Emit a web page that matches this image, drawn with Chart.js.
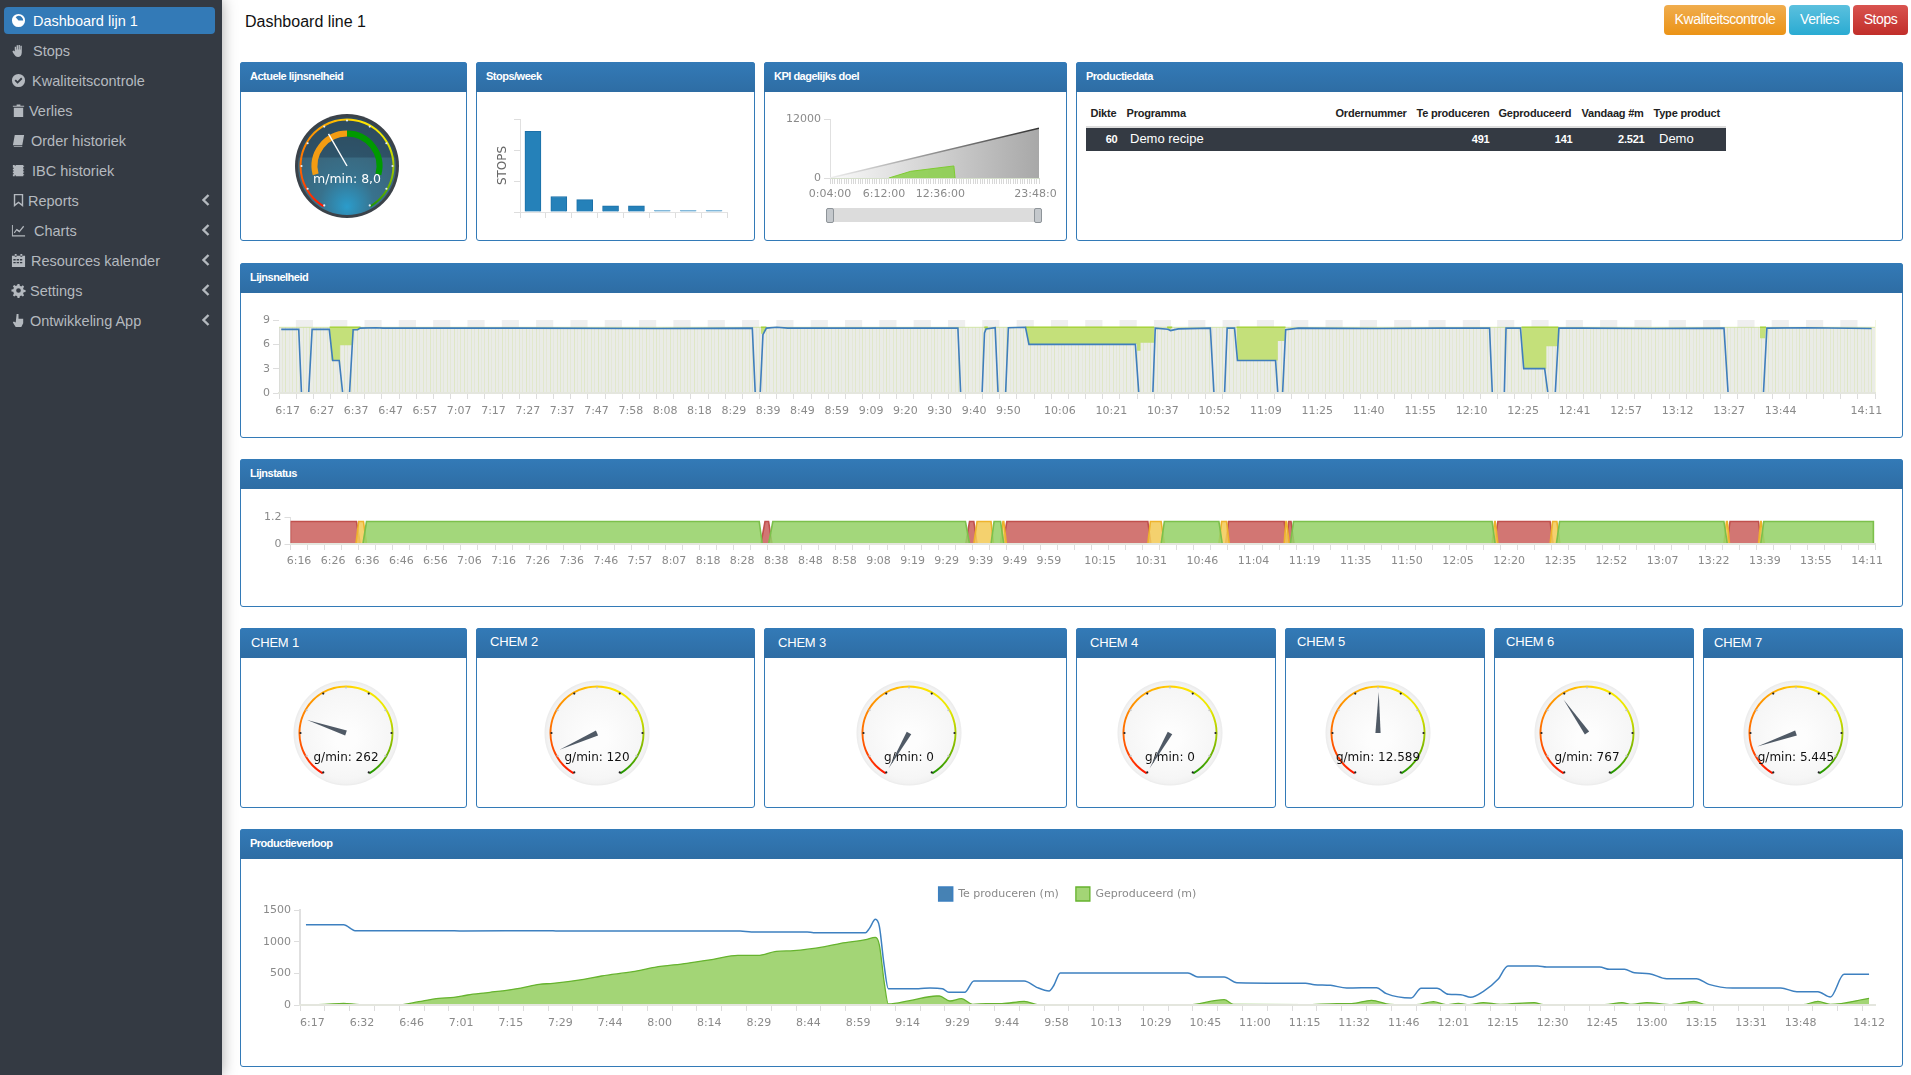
<!DOCTYPE html>
<html>
<head>
<meta charset="utf-8">
<title>Dashboard line 1</title>
<script src="https://cdn.jsdelivr.net/npm/chart.js"></script>
<style>
html,body{margin:0;padding:0;background:#fff;overflow:hidden;font-family:"Liberation Sans",Arial,sans-serif}
#page{position:relative;width:1911px;height:1075px;overflow:hidden}
#side{position:absolute;left:0;top:0;width:222px;height:1075px;background:#343a43;box-shadow:0 0 14px rgba(0,0,0,.35)}
#active{position:absolute;left:4px;top:7px;width:211px;height:27px;background:#337ab7;border-radius:4px}
.item{position:absolute;font-size:14.5px;color:#b4b9bf;line-height:20px;white-space:nowrap}
.ico{position:absolute;left:11px;width:15px;height:15px;fill:#b4b9bf}
.chev{position:absolute;left:202px;width:8px;height:12px;fill:none;stroke:#b4b9bf;stroke-width:2.4}
#title{position:absolute;left:245px;top:12px;font-size:16px;color:#111;line-height:20px}
.btn{position:absolute;top:5px;height:30px;line-height:29px;box-sizing:border-box;border-radius:4px;color:#fff;font-size:14px;text-align:center;letter-spacing:-.45px}
.panel{position:absolute;box-sizing:border-box;border:1px solid #337ab7;border-radius:3px;background:#fff}
.panel .head{position:absolute;left:-1px;right:-1px;top:-1px;height:30px;border-radius:3px 3px 0 0;background:linear-gradient(#337ab7,#2e6da4);color:#fff;font-size:11px;font-weight:bold;line-height:29px;padding-left:10px;letter-spacing:-.5px;box-sizing:border-box}
.panel .head.chem{font-size:13px;font-weight:normal;letter-spacing:-.2px;height:30px}
canvas{position:absolute}
table{position:absolute;left:1086px;top:101px;width:640px;border-collapse:collapse;table-layout:fixed;font-size:11px;color:#222}
th{box-sizing:border-box;font-weight:bold;height:26px;padding:0 4.5px 1px;text-align:left;letter-spacing:-.2px;border-bottom:2px solid #ddd}
td{box-sizing:border-box;height:24px;padding:0 4.5px 2px;background:#343a43;color:#fff;font-weight:bold;letter-spacing:-.2px}
.r{text-align:right}
td.big{font-size:13px;font-weight:normal;letter-spacing:0}
#slider{position:absolute;left:827px;top:208px;width:214px;height:14px;background:#dcdcdc}
.grip{position:absolute;top:208px;width:6px;height:13px;background:#c4c8cc;border:1px solid #8e9499;border-radius:2px}
</style>
</head>
<body>
<div id="page">
  <div id="side"><div id="active"></div></div>
  <div id="title">Dashboard line 1</div>
  <div class="btn" style="left:1664px;width:122px;background:linear-gradient(#f0ad4e,#eb9316)">Kwaliteitscontrole</div>
  <div class="btn" style="left:1789px;width:61px;background:linear-gradient(#5bc0de,#2aabd2)">Verlies</div>
  <div class="btn" style="left:1853px;width:55px;background:linear-gradient(#d9534f,#c12e2a)">Stops</div>

  <div class="panel" style="left:240px;top:62px;width:227px;height:179px"><div class="head">Actuele lijnsnelheid</div></div>
  <div class="panel" style="left:476px;top:62px;width:279px;height:179px"><div class="head">Stops/week</div></div>
  <div class="panel" style="left:764px;top:62px;width:303px;height:179px"><div class="head">KPI dagelijks doel</div></div>
  <div class="panel" style="left:1076px;top:62px;width:827px;height:179px"><div class="head">Productiedata</div></div>
  <div class="panel" style="left:240px;top:263px;width:1663px;height:175px"><div class="head">Lijnsnelheid</div></div>
  <div class="panel" style="left:240px;top:459px;width:1663px;height:148px"><div class="head">Lijnstatus</div></div>
  <div class="panel" style="left:240px;top:628px;width:227px;height:180px"><div class="head chem" style="padding-left:11px">CHEM 1</div></div>
  <div class="panel" style="left:476px;top:628px;width:279px;height:180px"><div class="head chem" style="padding-left:14px;line-height:27px">CHEM 2</div></div>
  <div class="panel" style="left:764px;top:628px;width:303px;height:180px"><div class="head chem" style="padding-left:14px">CHEM 3</div></div>
  <div class="panel" style="left:1076px;top:628px;width:200px;height:180px"><div class="head chem" style="padding-left:14px">CHEM 4</div></div>
  <div class="panel" style="left:1285px;top:628px;width:200px;height:180px"><div class="head chem" style="padding-left:12px;line-height:27px">CHEM 5</div></div>
  <div class="panel" style="left:1494px;top:628px;width:200px;height:180px"><div class="head chem" style="padding-left:12px;line-height:27px">CHEM 6</div></div>
  <div class="panel" style="left:1703px;top:628px;width:200px;height:180px"><div class="head chem" style="padding-left:11px">CHEM 7</div></div>
  <div class="panel" style="left:240px;top:829px;width:1663px;height:238px"><div class="head">Productieverloop</div></div>

  <table>
    <colgroup><col style="width:36px"><col style="width:209px"><col style="width:81px"><col style="width:82px"><col style="width:83px"><col style="width:72px"><col style="width:77px"></colgroup>
    <tr><th>Dikte</th><th>Programma</th><th>Ordernummer</th><th>Te produceren</th><th>Geproduceerd</th><th>Vandaag #m</th><th>Type product</th></tr>
    <tr><td class="r">60</td><td class="big" style="padding-left:8px">Demo recipe</td><td></td><td class="r">491</td><td class="r">141</td><td class="r">2.521</td><td class="big" style="padding-left:10px">Demo</td></tr>
  </table>

  <div id="slider"></div>
  <div class="grip" style="left:826px"></div>
  <div class="grip" style="left:1034px"></div>
</div>
<script>
// sidebar
const sideLabels = ["Dashboard lijn 1","Stops","Kwaliteitscontrole","Verlies","Order historiek","IBC historiek","Reports","Charts","Resources kalender","Settings","Ontwikkeling App"];
const sideText = [33,33,32,29,31,32,28,34,31,30,30];
const sideIcons = [
 "M8 1a7 7 0 1 0 0 14A7 7 0 0 0 8 1zm0 2a5 5 0 0 1 5 5H8L5 4.6A5 5 0 0 1 8 3z",
 "M4 8V4h1.5v3H6V2.5h1.5V7H8V2h1.500v5h.5V3h1.500v7c0 3-2 5-4 5s-3-1-5-4l-1-2 1-1 2 1z",
 "M8 1a7 7 0 1 0 0 14A7 7 0 0 0 8 1zM7 11.500 3.800 8.300l1.400-1.400L7 8.700l3.800-3.800 1.400 1.400z",
 "M3 5h10v10H3zM2 3h4V1.500h4V3h4v1H2z",
 "M4 2h10l-2 11H2zM3 14h9v1H3z",
 "M2 2h2v1h1v-1h8v1h1v1h-1v2h1v1h-1v2h1v1h-1v2h1v1h-1v1H5v-1H4v1H2v-2h1v-1H2V9h1V8H2V6h1V5H2z",
 "M3 1h10v14l-5-4-5 4zm1.500 1.500v9.300L8 9l3.500 2.800V2.500z",
 "M1 2h1v11h13v1.500H1zM3 10l3-4 3 2 4-5 1 1-5 6-3-2-2 3z",
 "M1 3h14v12H1zM4 1h2v3H4zM10 1h2v3h-2zM2.500 6.500v1.500h2.500V6.500zm3.500 0v1.500h2.500V6.500zm3.500 0v1.500H12V6.500zm-7 3V11h2.500V9.500zm3.500 0V11h2.500V9.500zm3.500 0V11H12V9.500z",
 "M7 1h2l.4 2 1.500.6 1.700-1.100 1.400 1.400-1.100 1.700.6 1.500 2 .4v2l-2 .4-.6 1.500 1.100 1.700-1.400 1.400-1.700-1.100-1.500.6-.4 2H7l-.4-2-1.500-.6-1.700 1.100-1.400-1.400 1.100-1.700L2.500 9.400 .5 9V7l2-.4.6-1.500L2 3.400 3.400 2l1.700 1.100L6.600 2.500zM8 5.500a2.500 2.500 0 1 0 0 5 2.500 2.500 0 0 0 0-5z",
 "M6 1h2v5h5v5l-2 4H5L2 10l1-1 2 1z"
];
const sideChevron = [0,0,0,0,0,0,1,1,1,1,1];
const side = document.getElementById("side");
sideLabels.forEach((t,i)=>{
  const y = 21 + i*30;
  side.insertAdjacentHTML("beforeend",
   `<svg class="ico" viewBox="0 0 16 16" style="top:${y-8}px${i?"":";fill:#fff"}"><path fill-rule="evenodd" d="${sideIcons[i]}"/></svg>`+
   `<div class="item" style="left:${sideText[i]}px;top:${y-10}px${i?"":";color:#fff"}">${t}</div>`+
   (sideChevron[i]?`<svg class="chev" viewBox="0 0 8 12" style="top:${y-7}px"><polyline points="6.500,1 1.500,6 6.500,11"/></svg>`:""));
});

// Stops/week
const stopWeeks = ["1","2","3","4","5","6","7","8"];
const stopValues = [26,5,4,2,2,0.5,0.5,0.5];

// KPI dagelijks doel (x in minutes of the day)
const kpiTickMinutes = [4,372,756,1428];
const kpiTickLabels = ["0:04:00","6:12:00","12:36:00","23:48:00"];
const kpiTargetMinutes = [4,1428];
const kpiTarget = [0,10100];
const kpiActualMinutes = [405,460,554,848,856];
const kpiActual = [0,500,1360,2450,0];

// Lijnsnelheid (x in axis ticks, the line is not drawn while the speed stays at 0)
const speedTickPos = [0,2,4,6,8,10,12,14,16,18,20,22,24,26,28,30,32,34,36,38,40,42,45,48,51,54,57,60,63,66,69,72,75,78,81,84,87,92];
const speedTickLabels = ["6:17","6:27","6:37","6:47","6:57","7:07","7:17","7:27","7:37","7:47","7:58","8:08","8:18","8:29","8:39","8:49","8:59","9:09","9:20","9:30","9:40","9:50","10:06","10:21","10:37","10:52","11:09","11:25","11:40","11:55","12:10","12:25","12:41","12:57","13:12","13:27","13:44","14:11"];
const speedX = [0.13,1.15,1.31,1.5,1.73,1.93,2.93,3.13,3.51,3.71,3.9,4.11,4.32,4.58,4.73,5.66,6.08,14,22,27.58,27.75,27.9,28.04,28.2,28.4,29,29.65,35,39.56,39.72,40.3,40.97,41.11,41.2,41.73,41.9,42.1,42.34,42.5,43.5,43.7,49.9,50.1,50.5,50.92,51.06,51.8,51.95,52.4,54.27,54.48,54.8,55.1,55.25,55.68,55.85,58.07,58.2,58.3,58.48,58.66,59.4,64,67.7,70.54,70.7,71,71.4,71.5,72.34,72.53,73.75,73.94,74.1,74.37,74.58,76,80,84.2,84.44,85.5,86.5,86.7,89,92.8];
const speedValues = [7.85,7.85,0,null,0,7.85,7.85,4,4,0,null,0,7.8,7.8,8,8.05,8,8,7.95,8,0,null,0,7.2,8,8.1,8,8,8,0,null,0,7.4,7.9,8.05,0,null,0,8.05,8.1,6,6,0,null,0,8,7.85,7.7,7.9,8,0,null,0,8,8,4,4,0,null,0,7.8,8,7.95,8,8,0,null,0,8,8,3,3,0,null,0,8,8,7.95,8,0,null,0,8,8.05,7.95];
const speedLossX = [2.95,3.05,3.55,3.55,4.3,4.35,4.6,4.75,5, 28.08,28.08,28.25,28.4,28.5, 41.1,41.1,41.2,41.3,41.4, 43.5,43.7,50,50,50.2,50.2,51,51,51.2, 51.75,51.9,52.05,52.2, 55.8,55.85,58.2,58.2,58.6,58.65,58.8, 72.4,72.53,73.85,73.85,74.5,74.55,74.7, 86.3,86.3,86.6,86.65];
const speedLossY = [8.1,4,4,5.9,5.9,7.8,7.8,8.1,null, 8.1,7.3,7.3,8.1,null, 8.1,7.5,7.9,8.1,null, 8.1,6,6,5.2,5.2,6.2,6.2,8.1,null, 8.1,7.7,8.1,null, 8.1,4,4,6.4,6.4,8.1,null, 8.1,3,3,5.75,5.75,8.1,null, 8.1,6.75,6.75,8.1];
const speedPlanX = [0,93];
const speedPlan = [8.1,8.1];

// Lijnstatus (x in axis ticks)
const statusTickPos = [0,2,4,6,8,10,12,14,16,18,20,22,24,26,28,30,32,34,36,38,40,42,44,47,50,53,56,59,62,65,68,71,74,77,80,83,86,89,92];
const statusTickLabels = ["6:16","6:26","6:36","6:46","6:56","7:06","7:16","7:26","7:36","7:46","7:57","8:07","8:18","8:28","8:38","8:48","8:58","9:08","9:19","9:29","9:39","9:49","9:59","10:15","10:31","10:46","11:04","11:19","11:35","11:50","12:05","12:20","12:35","12:52","13:07","13:22","13:39","13:55","14:11"];
const statusRedX = [0,0,3.87,4.09,4.1, 27.6,27.84,28.05,28.25,28.3, 39.62,39.84,40.09,40.28,40.3, 41.8,42.03,50.3,50.48,50.5, 54.86,55.04,58.3,58.47,58.47, 58.44,58.57,58.7,58.88,58.9, 70.62,70.84,73.9,74.08,74.1, 84.27,84.46,86.13,86.29];
const statusRed = [0,1,1,0,null, 0,1,1,0,null, 0,1,1,0,null, 0,1,1,0,null, 0,1,1,0,null, 0,1,1,0,null, 0,1,1,0,null, 0,1,1,0];
const statusAmberX = [3.84,4,4.28,4.46,4.5, 40.09,40.28,41.1,41.25,41.3, 41.66,41.8,41.85,42,42.1, 50.3,50.45,51.08,51.27,51.3, 54.47,54.63,54.92,55.08,55.1, 58.3,58.4,58.44,58.6,58.7, 70.5,70.65,70.68,70.84,70.9, 73.9,74.05,74.3,74.48,74.5, 84.1,84.25,84.3,84.43,84.5, 86.13,86.26,86.29,86.47];
const statusAmber = [0,1,1,0,null, 0,1,1,0,null, 0,1,1,0,null, 0,1,1,0,null, 0,1,1,0,null, 0,1,1,0,null, 0,1,1,0,null, 0,1,1,0,null, 0,1,1,0,null, 0,1,1,0];
const statusGreenX = [4.25,4.46,27.5,27.68,27.7, 28.05,28.3,39.6,39.84,39.9, 41.1,41.28,41.66,41.85,41.9, 51.08,51.27,54.47,54.67,54.7, 58.66,58.85,70.5,70.68,70.7, 74.27,74.46,84.1,84.3,84.35, 86.26,86.44,92.87,92.87];
const statusGreen = [0,1,1,0,null, 0,1,1,0,null, 0,1,1,0,null, 0,1,1,0,null, 0,1,1,0,null, 0,1,1,0,null, 0,1,1,0];

// Productieverloop (x in axis ticks)
const prodTickPos = [0,2,4,6,8,10,12,14,16,18,20,22,24,26,28,30,32,34,36,38,40,42,44,46,48,50,52,54,56,58,60,62.76];
const prodTickLabels = ["6:17","6:32","6:46","7:01","7:15","7:29","7:44","8:00","8:14","8:29","8:44","8:59","9:14","9:29","9:44","9:58","10:13","10:29","10:45","11:00","11:15","11:32","11:46","12:01","12:15","12:30","12:45","13:00","13:15","13:31","13:48","14:12"];
const prodTodoX = [0.24,1.76,2.22,5.86,6.58,10,10.4,17.74,18.2,20.45,20.7,22.8,22.96,23.2,23.36,23.54,23.72,24.94,25.4,25.9,26.16,26.8,27.17,29.2,29.7,30.2,30.4,30.65,35.8,36.2,37.26,37.77,40.54,40.9,41.55,42.2,43.4,43.8,44.8,45.2,45.84,46.3,46.8,47.2,47.7,48.3,48.7,49.9,50.26,52.4,52.8,53.4,53.8,54.4,55.1,56.3,56.8,57.75,59.7,60.35,61.2,61.7,62.25,63.26];
const prodTodo = [1268,1268,1174,1174,1168,1174,1168,1168,1153,1153,1142,1142,1210,1352,1237,658,258,258,268,258,200,200,379,379,279,221,316,505,505,442,442,353,342,321,311,268,274,179,110,263,263,168,163,121,210,405,616,616,600,600,563,563,510,495,416,416,326,268,268,210,210,126,484,484];
const prodDoneX = [0,1,1.76,2.4,4.06,4.78,5.6,6.2,6.76,7.66,8.9,9.64,10.2,11.44,12.16,13.42,14.3,15.6,16.66,17.65,18.46,19.2,19.9,21.16,21.8,22.8,23.2,23.36,23.56,23.72,24.58,25.66,25.78,26.2,26.67,27.12,27.67,28.3,29.2,29.8,35.75,37.26,37.64,40.54,41.8,42.4,43.2,43.95,45,45.7,46.2,46.7,47.15,47.7,48.4,49.76,50.13,52.6,53.3,53.7,54.3,55.3,56.2,56.7,60.6,61.2,61.7,63.26];
const prodDone = [5,10,26,5,5,53,105,121,158,200,268,326,342,405,458,526,595,658,721,784,784,847,858,921,974,1032,1068,947,342,16,68,142,142,63,100,10,21,21,58,0,0,84,10,5,21,21,74,10,5,53,5,26,5,37,10,37,5,5,37,10,37,5,58,5,5,58,10,105];

// gauges
const lineGauge = {unit:"m/min", value:8, text:"8,0", max:20, zones:[3,7,7,3,4]};
const chemNames = ["CHEM 1","CHEM 2","CHEM 3","CHEM 4","CHEM 5","CHEM 6","CHEM 7"];
const chemValues = [262,120,0,0,12589,767,5445];
const chemTexts = ["262","120","0","0","12.589","767","5.445"];
const chemMax = [1000,1000,1000,1000,25000,2000,40000];
const chemCentersX = [346,597,909,1170,1378,1587,1796];

Chart.defaults.animation = false;
Chart.defaults.font.family = '"DejaVu Sans",sans-serif';
Chart.defaults.font.size = 11;
Chart.defaults.color = "#8a8a8a";
Chart.defaults.plugins.legend.display = false;
Chart.defaults.plugins.tooltip.enabled = false;
Chart.defaults.layout.autoPadding = false;
Chart.defaults.elements.point.radius = 0;

const page = document.getElementById("page");
function mk(left,top,w,h){
  const c=document.createElement("canvas"); c.width=w; c.height=h;
  c.style.cssText=`left:${left}px;top:${top}px;width:${w}px;height:${h}px`;
  page.appendChild(c); return c.getContext("2d");
}
const zip = (xs,ys)=>xs.map((x,i)=>({x,y:ys[i]}));

function yAxis(width,max,step,extra){
  return Object.assign({type:"linear",position:"left",min:0,max,
    afterFit:s=>{s.width=width},
    border:{color:"#e0e0e0"},
    grid:{drawOnChartArea:false,tickLength:6,tickColor:"#ddd"},
    ticks:{stepSize:step,padding:3,callback:v=>String(v),font:{size:11}}},extra||{});
}
// two stacked bottom axes: xs carries the data and tick marks, xl carries the labels
// centred in the band after their tick
function timeAxes(span,pos,labels,step,pad,gridExtra){
  const marks=[]; for(let i=0;i<=Math.round(span/step);i++) marks.push({value:i*step});
  return {
    xs:{type:"linear",position:"bottom",weight:0,min:0,max:span,offset:false,
      afterBuildTicks:s=>{s.ticks=marks},afterFit:s=>{s.height=6},
      border:{color:"#e4e6de",width:2,z:1},
      grid:Object.assign({offset:false,drawOnChartArea:false,tickLength:6,tickColor:"#ddd"},gridExtra||{}),
      ticks:{display:false,autoSkip:false}},
    xl:{type:"linear",position:"bottom",weight:1,min:-0.5,max:span-0.5,
      afterBuildTicks:s=>{s.ticks=pos.map(value=>({value}))},afterFit:s=>{s.height=30},
      border:{display:false},grid:{display:false,drawTicks:false},
      ticks:{autoSkip:false,maxRotation:0,padding:pad,callback:(v,i)=>labels[i],font:{size:11}}}
  };
}

// Stops/week
new Chart(mk(492,105,250,113),{type:"bar",
  data:{labels:stopWeeks,datasets:[{data:stopValues,barThickness:16,borderWidth:1,
    backgroundColor:stopValues.map(v=>v<1?"#82b9da":"#2581b9"),
    borderColor:stopValues.map(v=>v<1?"#82b9da":"#1c70a8")}]},
  options:{responsive:false,layout:{padding:{top:14,right:15}},scales:{
    x:{afterFit:s=>{s.height=6},border:{color:"#e2e2e2"},grid:{drawOnChartArea:false,tickLength:6,tickColor:"#ddd"},ticks:{display:false}},
    y:yAxis(28,30,10,{title:{display:true,text:"STOPS",color:"#666",font:{size:12},padding:{top:4,bottom:0}},ticks:{display:false,stepSize:10}})
  }}});

// KPI dagelijks doel
const kpiMarks=[]; for(let m=kpiTickMinutes[0];m<=kpiTickMinutes[3];m+=16) kpiMarks.push({value:m});
new Chart(mk(770,105,287,103),{type:"line",
  data:{datasets:[
    {data:zip(kpiActualMinutes,kpiActual),fill:"origin",borderColor:"#7fcb32",borderWidth:1,backgroundColor:"rgba(132,208,64,.8)"},
    {data:zip(kpiTargetMinutes,kpiTarget),fill:"origin",borderWidth:1.5,
      borderColor:c=>{const a=c.chart.chartArea; if(!a)return "#333"; const g=c.chart.ctx.createLinearGradient(a.left,0,a.right,0); g.addColorStop(0,"#eee"); g.addColorStop(1,"#333"); return g},
      backgroundColor:c=>{const a=c.chart.chartArea; if(!a)return "#bbb"; const g=c.chart.ctx.createLinearGradient(a.left,0,a.right,0); g.addColorStop(0,"#fafafa"); g.addColorStop(1,"#a8a8a8"); return g}}
  ]},
  options:{responsive:false,layout:{padding:{top:14,right:18}},scales:{
    x:{type:"linear",min:kpiTickMinutes[0],max:kpiTickMinutes[3],
      afterBuildTicks:s=>{s.ticks=kpiMarks},afterFit:s=>{s.height=30;s.paddingLeft=0;s.paddingRight=0},
      border:{color:"#d5dfcb"},grid:{drawOnChartArea:false,tickLength:6,tickColor:"#d8d8d8"},
      ticks:{autoSkip:false,maxRotation:0,padding:4,callback:v=>{const i=kpiTickMinutes.indexOf(v);return i<0?"":kpiTickLabels[i]},font:{size:11}}},
    y:yAxis(60,12000,12000)
  }}});

// Lijnsnelheid
const speedStripes=["#eef7ca","#f2f7da","#e9f4bc","#f5f8e2","#eef7ca","#ebf5c4","#f3f7de"];
const speedAxes=timeAxes(93,speedTickPos,speedTickLabels,0.2,6,{
  drawOnChartArea:true,
  color:c=>speedStripes[c.index%speedStripes.length],
  tickColor:c=>c.index%5==0?"#ddd":"rgba(0,0,0,0)"});
const speedBands=[]; for(let i=0;i<93;i++) speedBands.push({x:i+0.5,y:[8.1,9]});
new Chart(mk(240,300,1660,129),{type:"line",
  data:{datasets:[
    {data:zip(speedX,speedValues),xAxisID:"xs",borderColor:"#3f7ebc",borderWidth:1.6,fill:false},
    {data:zip(speedLossX,speedLossY.map(v=>v==null?null:8.1)),xAxisID:"xs",borderColor:"#a8d43f",borderWidth:1.4,fill:false},
    {data:zip(speedLossX,speedLossY),xAxisID:"xs",borderWidth:0,fill:{value:8.1},backgroundColor:"#c4e07a"},
    {data:zip(speedPlanX,speedPlan),xAxisID:"xs",borderWidth:1,borderColor:"rgba(190,222,120,.6)",fill:"origin",backgroundColor:"rgba(214,217,208,.5)"},
    {type:"bar",data:speedBands,xAxisID:"xs",grouped:false,barThickness:17.16,borderWidth:0,
      backgroundColor:speedBands.map((b,i)=>i%2?"#efefef":"#fff")}
  ]},
  options:{responsive:false,layout:{padding:{top:20,right:25}},scales:Object.assign(speedAxes,{y:yAxis(39,9,3)})}});

// Lijnstatus
new Chart(mk(240,505,1660,75),{type:"line",
  data:{datasets:[
    {data:zip(statusGreenX,statusGreen),xAxisID:"xs",borderColor:"#7cc04b",borderWidth:1.6,fill:"origin",backgroundColor:"rgba(150,210,105,.88)"},
    {data:zip(statusAmberX,statusAmber),xAxisID:"xs",borderColor:"#eeb32c",borderWidth:1.6,fill:"origin",backgroundColor:"rgba(243,203,90,.88)"},
    {data:zip(statusRedX,statusRed),xAxisID:"xs",borderColor:"#c0504d",borderWidth:1.6,fill:"origin",backgroundColor:"rgba(202,94,90,.85)"}
  ]},
  options:{responsive:false,layout:{padding:{top:12,right:24.4}},scales:Object.assign(timeAxes(93,statusTickPos,statusTickLabels,1,5),{y:yAxis(50.5,1.2,1.2)})}});

// Productieverloop
const fitLegend={id:"fitLegend",beforeInit(chart){const f=chart.legend.fit; chart.legend.fit=function(){f.call(this); this.height=40}}};
const prodAxes=timeAxes(63.5,prodTickPos,prodTickLabels,1,6);
prodAxes.xs.afterBuildTicks=s=>{const m=[]; for(let i=0;i<=63;i++) m.push({value:i}); s.ticks=m};
prodAxes.xl.max=63;
new Chart(mk(260,870,1632,171),{type:"line",
  data:{datasets:[
    {label:"Te produceren (m)",data:zip(prodTodoX,prodTodo),xAxisID:"xs",borderColor:"#3d80c0",backgroundColor:"#4682b4",borderWidth:1.5,fill:false,cubicInterpolationMode:"monotone"},
    {label:"Geproduceerd (m)",data:zip(prodDoneX,prodDone),xAxisID:"xs",borderColor:"#66b32e",backgroundColor:"#a3d576",borderWidth:1.3,fill:"origin",cubicInterpolationMode:"monotone"}
  ]},
  plugins:[fitLegend],
  options:{responsive:false,layout:{padding:{right:17}},
    plugins:{legend:{display:true,position:"top",labels:{boxWidth:14,boxHeight:14,padding:17,color:"#8a8a8a",font:{size:11}}}},
    scales:Object.assign(prodAxes,{y:yAxis(40,1500,500,{border:{color:"#e0e0e0",width:2}})})}});

// gauges: one doughnut for the rim and zones, the dial and needle follow the value
const SWEEP=300;
const toAngle=(v,max)=>(v/max*SWEEP-SWEEP/2-90)*Math.PI/180;
function rimGradient(ctx,c){
  const g=ctx.createConicGradient(Math.PI/2,c,c);
  const stops=[[.083,"#ff1500"],[.25,"#ff6a00"],[.417,"#ffa800"],[.55,"#ffe400"],[.667,"#e8e800"],[.78,"#8fbf00"],[.917,"#1e9600"]];
  stops.forEach(s=>g.addColorStop(s[0],s[1]));
  return g;
}
function gauge(cx,cy,cfg){
  const S=120,c=S/2,ctx=mk(cx-c,cy-c,S,S),rim=rimGradient(ctx,c);
  const dark=cfg.dark, gap=cfg.max/5;
  const dial={id:"dial",
    beforeDatasetsDraw(){
      ctx.save();
      if(dark){
        ctx.fillStyle="#3b4249"; ctx.beginPath(); ctx.arc(c,c,52,0,7); ctx.fill();
        const g=ctx.createRadialGradient(c,c+41,0,c,c+30,78);
        g.addColorStop(0,"#2b9ccb"); g.addColorStop(.35,"#38728d"); g.addColorStop(1,"#3c5a6b");
        ctx.fillStyle=g; ctx.beginPath(); ctx.arc(c,c,49,0,7); ctx.fill();
        ctx.beginPath(); ctx.arc(c,c,49,0,7); ctx.clip();
        ctx.fillStyle="rgba(25,50,70,.38)"; ctx.fillRect(0,0,S,c-8.5);
      }else{
        const g=ctx.createRadialGradient(c,c+6,10,c,c,53);
        g.addColorStop(0,"#fdfdfd"); g.addColorStop(.8,"#f6f6f6"); g.addColorStop(.93,"#f2f2f2"); g.addColorStop(1,"#e9e9e9");
        ctx.fillStyle=g; ctx.beginPath(); ctx.arc(c,c,52.5,0,7); ctx.fill();
      }
      ctx.restore();
    },
    afterDatasetsDraw(){
      ctx.save();
      for(let d=-150;d<=150;d+=30){
        const a=(d-90)*Math.PI/180, major=Math.abs(d)%60==30;
        ctx.fillStyle=dark?"#e8eef2":(major?"#222":"#c4c4c4");
        ctx.beginPath(); ctx.arc(c+Math.cos(a)*45.5,c+Math.sin(a)*45.5,1.1,0,7); ctx.fill();
      }
      const a=toAngle(cfg.value,cfg.max),tx=Math.cos(a),ty=Math.sin(a);
      ctx.textAlign="center"; ctx.textBaseline="middle";
      ctx.font=`${dark?12.5:12}px "DejaVu Sans"`;
      ctx.fillStyle=dark?"#fff":"#111";
      ctx.fillText(`${cfg.unit}: ${cfg.text}`,c,c+(dark?13.5:25));
      if(dark){
        ctx.strokeStyle="#fff"; ctx.lineWidth=1.4; ctx.beginPath(); ctx.moveTo(c,c); ctx.lineTo(c+tx*37,c+ty*37); ctx.stroke();
      }else{
        ctx.fillStyle="#505a66"; ctx.beginPath();
        ctx.moveTo(c-ty*2.6,c+tx*2.6); ctx.lineTo(c+tx*41,c+ty*41); ctx.lineTo(c+ty*2.6,c-tx*2.6); ctx.closePath(); ctx.fill();
      }
      ctx.restore();
    }};
  const sets=[{data:[cfg.max,gap],backgroundColor:[rim,"rgba(0,0,0,0)"],borderWidth:0,weight:2}];
  if(cfg.zones){
    sets.push({data:[1],backgroundColor:["rgba(0,0,0,0)"],borderWidth:0,weight:10});
    sets.push({data:cfg.zones,backgroundColor:["rgba(0,0,0,0)","#f39c12","#009a00","rgba(0,0,0,0)","rgba(0,0,0,0)"],borderWidth:0,weight:6});
  }
  // cutout is a share of the radius here
  new Chart(ctx,{type:"doughnut",data:{datasets:sets},plugins:[dial],
    options:{responsive:false,rotation:-SWEEP/2,radius:47.5,cutout:cfg.zones?"62%":"96%"}});
}
gauge(347,166,{dark:true,unit:lineGauge.unit,value:lineGauge.value,text:lineGauge.text,max:lineGauge.max,zones:lineGauge.zones});
chemNames.forEach((n,i)=>gauge(chemCentersX[i],733,{unit:"g/min",value:chemValues[i],text:chemTexts[i],max:chemMax[i]}));
</script>
</body>
</html>
